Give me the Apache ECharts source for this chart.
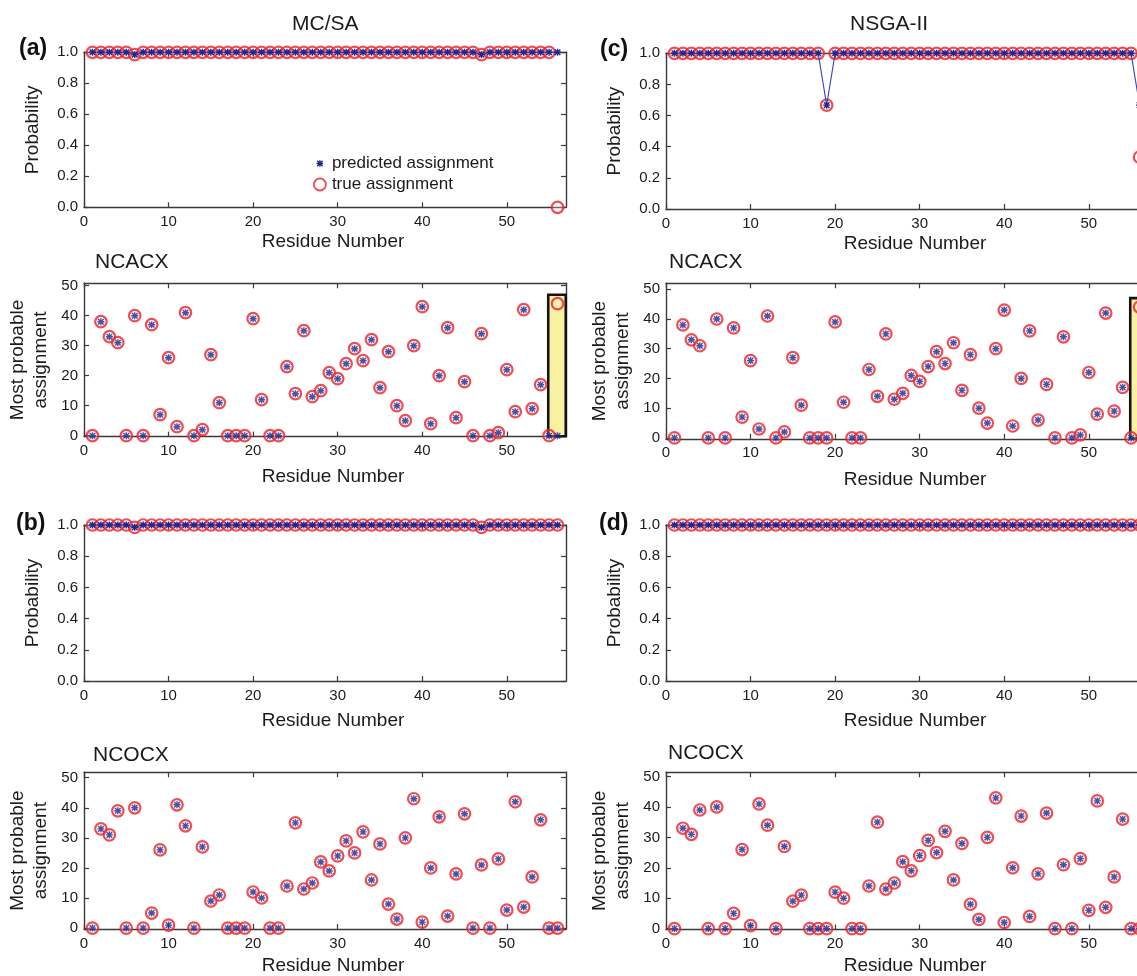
<!DOCTYPE html>
<html>
<head>
<meta charset="utf-8">
<title>Residue assignment probabilities: MC/SA vs NSGA-II</title>
<script src="https://cdn.jsdelivr.net/npm/echarts@6/dist/echarts.min.js"></script>
<style>
  html, body { margin: 0; padding: 0; overflow: hidden; background: #ffffff; }
  #chart { width: 1160px; height: 976px; }
</style>
</head>
<body>
<div id="chart"></div>
<script>
// ---------------- data ----------------
const residues = [1,2,3,4,5,6,7,8,9,10,11,12,13,14,15,16,17,18,19,20,21,22,23,24,25,26,27,28,
  29,30,31,32,33,34,35,36,37,38,39,40,41,42,43,44,45,46,47,48,49,50,51,52,53,54,55,56];

// most probable assignment, NCACX spectrum
const ncacxPredicted = [0,38,33,31,0,40,0,37,7,26, 3,41,0,2,27,11,0,0,0,39, 12,0,0,23,14,35,13,15,21,19,
  24,29,25,32,16,28,10,5,30,43, 4,20,36,6,18,0,34,0,1,22, 8,42,9,17,0,0];
const ncacxTrue = [0,38,33,31,0,40,0,37,7,26, 3,41,0,2,27,11,0,0,0,39, 12,0,0,23,14,35,13,15,21,19,
  24,29,25,32,16,28,10,5,30,43, 4,20,36,6,18,0,34,0,1,22, 8,42,9,17,0,44];

// most probable assignment, NCOCX spectrum
const ncocxPredicted = [0,33,31,39,0,40,0,5,26,1, 41,34,0,27,9,11,0,0,0,12, 10,0,0,14,35,13,15,22,19,24,
  29,25,32,16,28,8,3,30,43,2, 20,37,4,18,38,0,21,0,23,6, 42,7,17,36,0,0];
const ncocxTrue = [0,33,31,39,0,40,0,5,26,1, 41,34,0,27,9,11,0,0,0,12, 10,0,0,14,35,13,15,22,19,24,
  29,25,32,16,28,8,3,30,43,2, 20,37,4,18,38,0,21,0,23,6, 42,7,17,36,0,0];

// probabilities, MC/SA (a: NCACX, b: NCOCX)
const probPredA = [1,1,1,1,1,0.985,1,1,1,1, 1,1,1,1,1,1,1,1,1,1, 1,1,1,1,1,1,1,1,1,1,
  1,1,1,1,1,1,1,1,1,1, 1,1,1,1,1,1,0.985,1,1,1, 1,1,1,1,1,1];
const probTrueA = [1,1,1,1,1,0.985,1,1,1,1, 1,1,1,1,1,1,1,1,1,1, 1,1,1,1,1,1,1,1,1,1,
  1,1,1,1,1,1,1,1,1,1, 1,1,1,1,1,1,0.985,1,1,1, 1,1,1,1,1,0];
const probPredB = [1,1,1,1,1,0.985,1,1,1,1, 1,1,1,1,1,1,1,1,1,1, 1,1,1,1,1,1,1,1,1,1,
  1,1,1,1,1,1,1,1,1,1, 1,1,1,1,1,1,0.985,1,1,1, 1,1,1,1,1,1];
const probTrueB = [1,1,1,1,1,0.985,1,1,1,1, 1,1,1,1,1,1,1,1,1,1, 1,1,1,1,1,1,1,1,1,1,
  1,1,1,1,1,1,1,1,1,1, 1,1,1,1,1,1,0.985,1,1,1, 1,1,1,1,1,1];

// probabilities, NSGA-II (c: NCACX, d: NCOCX)
const probPredC = [1,1,1,1,1,1,1,1,1,1, 1,1,1,1,1,1,1,1,0.667,1, 1,1,1,1,1,1,1,1,1,1,
  1,1,1,1,1,1,1,1,1,1, 1,1,1,1,1,1,1,1,1,1, 1,1,1,1,1,0.667];
const probTrueC = [1,1,1,1,1,1,1,1,1,1, 1,1,1,1,1,1,1,1,0.667,1, 1,1,1,1,1,1,1,1,1,1,
  1,1,1,1,1,1,1,1,1,1, 1,1,1,1,1,1,1,1,1,1, 1,1,1,1,1,0.333];
const probPredD = [1,1,1,1,1,1,1,1,1,1, 1,1,1,1,1,1,1,1,1,1, 1,1,1,1,1,1,1,1,1,1,
  1,1,1,1,1,1,1,1,1,1, 1,1,1,1,1,1,1,1,1,1, 1,1,1,1,1,1];
const probTrueD = [1,1,1,1,1,1,1,1,1,1, 1,1,1,1,1,1,1,1,1,1, 1,1,1,1,1,1,1,1,1,1,
  1,1,1,1,1,1,1,1,1,1, 1,1,1,1,1,1,1,1,1,1, 1,1,1,1,1,1];

// tick labels
const residueTicks = [0, 10, 20, 30, 40, 50];
const probabilityTicks = [0, 0.2, 0.4, 0.6, 0.8, 1.0];
const assignmentTicks = [0, 10, 20, 30, 40, 50];

// flagged residue (wrong assignment) in the NCACX plots
const flagResidueRange = [54.9, 56.97];
const flagAssignRange = [-0.2, 47];

// ---------------- styling ----------------
const FONT = "'Liberation Sans', Arial, Helvetica, sans-serif";
const AXIS_COLOR = '#3a3a3a';
const TEXT_COLOR = '#1b1b1b';
const RED = '#ea2229';
const BLUE = '#1c2790';
const LINE_BLUE = '#3646b0';
const FLAG_FILL = '#f9f1a2';

// asterisk marker (8 arms)
const STAR = 'path://M4,0H6V10H4Z M0,4H10V6H0Z M0.3,1.7L1.7,0.3L9.7,8.3L8.3,9.7Z M8.3,0.3L9.7,1.7L1.7,9.7L0.3,8.3Z';
// same asterisk with empty margin so the legend icon stays small
const LEGEND_STAR = STAR + ' M-4,-4L-4,-4Z M14,14L14,14Z';

const grids = [], xAxes = [], yAxes = [], series = [];

function axisLineStyle() {
  return { show: true, onZero: false, lineStyle: { color: AXIS_COLOR, width: 1.4 } };
}
function tickStyle(values) {
  return { show: true, inside: true, length: 5, customValues: values,
           lineStyle: { color: AXIS_COLOR, width: 1.2 } };
}

function addPanel(cfg) {
  const g = grids.length;
  grids.push({ left: cfg.box[0], top: cfg.box[1], width: cfg.box[2], height: cfg.box[3] });

  const nameStyle = { fontSize: 19, fontFamily: FONT, color: TEXT_COLOR };
  // bottom + top residue axes
  xAxes.push({
    type: 'value', gridIndex: g, position: 'bottom', min: 0, max: 57,
    axisLine: axisLineStyle(), axisTick: tickStyle(residueTicks), splitLine: { show: false },
    axisLabel: { customValues: residueTicks, color: TEXT_COLOR, fontSize: 15, fontFamily: FONT, margin: 7 },
    name: 'Residue Number', nameLocation: 'middle', nameGap: cfg.xNameGap,
    nameTextStyle: Object.assign({ padding: [0, 0, 0, 16] }, nameStyle)
  });
  xAxes.push({
    type: 'value', gridIndex: g, position: 'top', min: 0, max: 57,
    axisLine: axisLineStyle(), axisTick: tickStyle(residueTicks),
    axisLabel: { show: false }, splitLine: { show: false }
  });

  const ticks = cfg.kind === 'prob' ? probabilityTicks : assignmentTicks;
  const yName = cfg.kind === 'prob' ? 'Probability' : 'Most probable\nassignment';
  yAxes.push({
    type: 'value', gridIndex: g, position: 'left', min: cfg.yRange[0], max: cfg.yRange[1],
    axisLine: axisLineStyle(), axisTick: tickStyle(ticks), splitLine: { show: false },
    axisLabel: {
      customValues: ticks, color: TEXT_COLOR, fontSize: 15, fontFamily: FONT, margin: 6,
      formatter: cfg.kind === 'prob' ? (v => v.toFixed(1)) : (v => String(v))
    },
    name: yName, nameLocation: 'middle', nameGap: cfg.kind === 'prob' ? 40 : 32,
    nameTextStyle: Object.assign({ lineHeight: 23, align: 'center' }, nameStyle)
  });
  yAxes.push({
    type: 'value', gridIndex: g, position: 'right', min: cfg.yRange[0], max: cfg.yRange[1],
    axisLine: axisLineStyle(), axisTick: tickStyle(ticks),
    axisLabel: { show: false }, splitLine: { show: false }
  });

  const xi = 2 * g, yi = 2 * g;
  const trueSeries = {
    name: 'true assignment', type: 'scatter', xAxisIndex: xi, yAxisIndex: yi,
    data: residues.map((r, i) => [r, cfg.truth[i]]),
    symbol: 'circle', symbolSize: 11.5, clip: false, silent: true, z: 3,
    itemStyle: { color: 'rgba(255,235,235,0.35)', borderColor: RED, borderWidth: 2.2 }
  };
  if (cfg.flag) {
    trueSeries.markArea = {
      silent: true, label: { show: false },
      itemStyle: { color: FLAG_FILL, borderColor: '#141414', borderWidth: 2.6 },
      data: [[{ coord: [flagResidueRange[0], flagAssignRange[0]] },
              { coord: [flagResidueRange[1], flagAssignRange[1]] }]]
    };
  }
  series.push(trueSeries);

  const predSeries = {
    name: 'predicted assignment', xAxisIndex: xi, yAxisIndex: yi,
    data: residues.map((r, i) => [r, cfg.pred[i]]),
    symbol: STAR, symbolSize: 7, clip: false, silent: true, z: 4,
    itemStyle: { color: BLUE }
  };
  if (cfg.kind === 'prob') {
    predSeries.type = 'line';
    predSeries.showSymbol = true;
    predSeries.lineStyle = { color: LINE_BLUE, width: 1.1 };
  } else {
    predSeries.type = 'scatter';
  }
  series.push(predSeries);
}

// left column: MC/SA
addPanel({ kind: 'prob', box: [84, 52.3, 482, 155], yRange: [0, 1], pred: probPredA, truth: probTrueA, xNameGap: 25 });
addPanel({ kind: 'assign', box: [84, 283.3, 482, 153.3], yRange: [-0.3, 50.8], pred: ncacxPredicted, truth: ncacxTrue, xNameGap: 31, flag: true });
addPanel({ kind: 'prob', box: [84, 525, 482, 156], yRange: [0, 1], pred: probPredB, truth: probTrueB, xNameGap: 30 });
addPanel({ kind: 'assign', box: [84, 772.3, 482, 157.5], yRange: [-0.3, 51.8], pred: ncocxPredicted, truth: ncocxTrue, xNameGap: 27 });
// right column: NSGA-II
addPanel({ kind: 'prob', box: [666, 53.3, 482, 155.7], yRange: [0, 1], pred: probPredC, truth: probTrueC, xNameGap: 25 });
addPanel({ kind: 'assign', box: [666, 283.3, 482, 155.5], yRange: [-0.3, 52], pred: ncacxPredicted, truth: ncacxTrue, xNameGap: 31, flag: true });
addPanel({ kind: 'prob', box: [666, 525, 482, 156], yRange: [0, 1], pred: probPredD, truth: probTrueD, xNameGap: 30 });
addPanel({ kind: 'assign', box: [666, 772.3, 482, 157.5], yRange: [-0.3, 51.4], pred: ncocxPredicted, truth: ncocxTrue, xNameGap: 26.5 });

function label(text, left, top, size, bold) {
  return {
    text, left, top, padding: 0,
    textStyle: { fontSize: size, fontWeight: bold ? 'bold' : 'normal', fontFamily: FONT,
                 color: bold ? '#111111' : TEXT_COLOR, lineHeight: size }
  };
}

const option = {
  animation: false,
  backgroundColor: '#ffffff',
  title: [
    label('MC/SA', 292, 14, 21, false),
    label('NSGA-II', 850, 14, 21, false),
    label('(a)', 19, 37, 23, true),
    label('(c)', 600, 38, 23, true),
    label('(b)', 16, 512, 23, true),
    label('(d)', 599, 512, 23, true),
    label('NCACX', 95, 252, 21, false),
    label('NCACX', 669, 252, 21, false),
    label('NCOCX', 93, 745, 21, false),
    label('NCOCX', 668, 743, 21, false)
  ],
  legend: {
    orient: 'vertical', left: 313, top: 155, padding: 0,
    itemWidth: 14, itemHeight: 12, itemGap: 4, selectedMode: false,
    textStyle: { fontSize: 17, fontFamily: FONT, color: TEXT_COLOR, lineHeight: 17 },
    data: [
      { name: 'predicted assignment', icon: LEGEND_STAR, itemStyle: { color: BLUE } },
      { name: 'true assignment', icon: 'circle',
        itemStyle: { color: 'rgba(255,255,255,0)', borderColor: RED, borderWidth: 1.8 } }
    ]
  },
  grid: grids,
  xAxis: xAxes,
  yAxis: yAxes,
  series: series
};

const chart = echarts.init(document.getElementById('chart'), null, { renderer: 'canvas' });
chart.setOption(option);
</script>
</body>
</html>
